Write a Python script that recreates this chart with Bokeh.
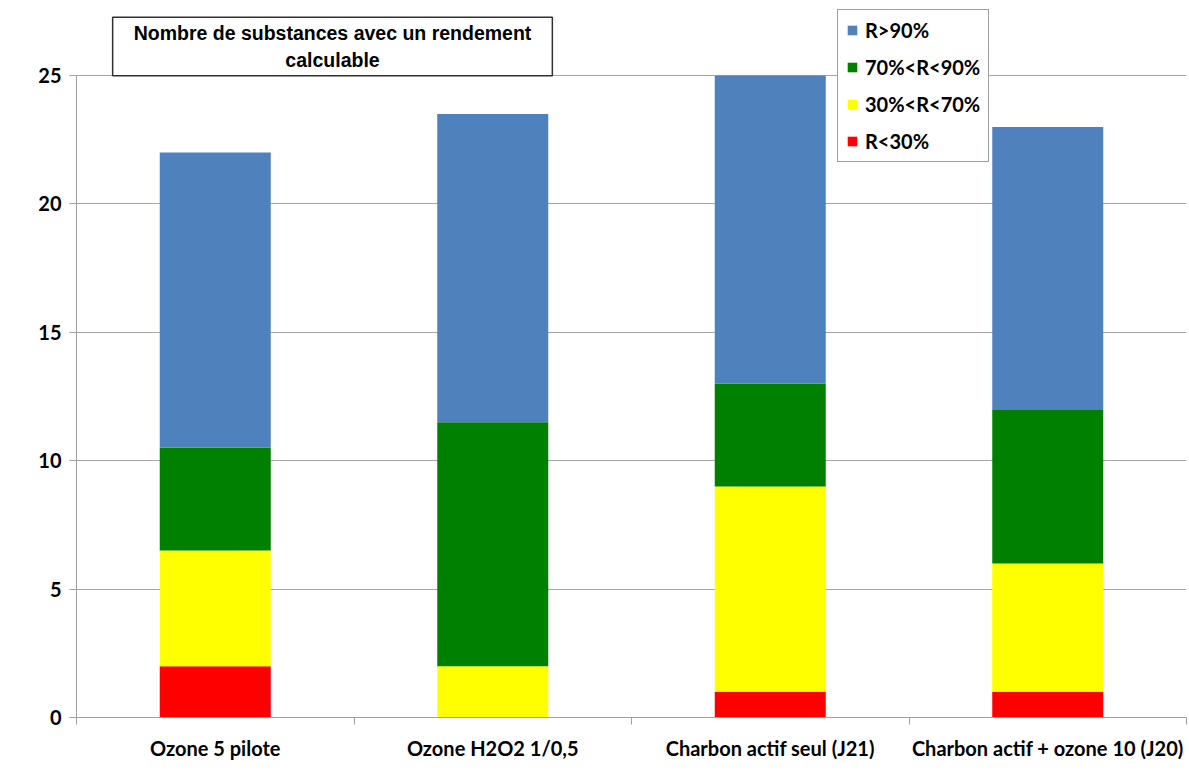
from bokeh.plotting import figure
from bokeh.models import (ColumnDataSource, FixedTicker, Legend, LegendItem, Label, Range1d)
from bokeh.embed import file_html
from bokeh.resources import INLINE

categories = ["Ozone 5 pilote", "Ozone H2O2 1/0,5", "Charbon actif seul (J21)", "Charbon actif + ozone 10 (J20)"]
r_lt30 = [2, 0, 1, 1]
r_30_70 = [4.5, 2, 8, 5]
r_70_90 = [4, 9.5, 4, 6]
r_gt90 = [11.5, 12, 12, 11]
series_labels = ["R<30%", "30%<R<70%", "70%<R<90%", "R>90%"]
series_colors = ["#ff0000", "#ffff00", "#008000", "#4f81bd"]
y_ticks = [0, 5, 10, 15, 20, 25]
title_text = "Nombre de substances avec un rendement\ncalculable"

xs = [i + 0.5 for i in range(len(categories))]
src = ColumnDataSource(dict(x=xs, r_lt30=r_lt30, r_30_70=r_30_70, r_70_90=r_70_90, r_gt90=r_gt90))

p = figure(width=1189, height=782, output_backend="svg", toolbar_location=None,
           x_range=Range1d(0, len(categories)), y_range=Range1d(0, 27.61),
           min_border_left=76, min_border_right=3, min_border_top=8, min_border_bottom=65)
p.outline_line_color = None
p.background_fill_color = "white"
p.border_fill_color = "white"

rs = p.vbar_stack(["r_lt30", "r_30_70", "r_70_90", "r_gt90"], x="x", width=0.4,
                  fill_color=series_colors, line_color=None, source=src)

# axes
p.xgrid.visible = False
p.ygrid.grid_line_color = "#a6a6a6"
p.ygrid.grid_line_width = 1
p.ygrid.ticker = FixedTicker(ticks=y_ticks)

p.yaxis.ticker = FixedTicker(ticks=y_ticks)
p.yaxis.bounds = (0, 25)
p.yaxis.axis_line_color = "#a0a0a0"
p.yaxis.major_tick_line_color = "#a0a0a0"
p.yaxis.major_tick_out = 7
p.yaxis.major_tick_in = 0
p.yaxis.minor_tick_line_color = None
p.yaxis.major_label_standoff = 8
p.yaxis.major_label_text_font = "Lato"
p.yaxis.major_label_text_font_style = "bold"
p.yaxis.major_label_text_font_size = "20px"
p.yaxis.major_label_text_color = "black"

p.xaxis.ticker = FixedTicker(ticks=xs, minor_ticks=list(range(len(categories) + 1)))
p.xaxis.major_label_overrides = {x: c for x, c in zip(xs, categories)}
p.xaxis.axis_line_color = "#a0a0a0"
p.xaxis.major_tick_out = 0
p.xaxis.major_tick_in = 0
p.xaxis.major_tick_line_color = None
p.xaxis.minor_tick_line_color = "#a0a0a0"
p.xaxis.minor_tick_out = 7
p.xaxis.minor_tick_in = 0
p.xaxis.major_label_standoff = 11
p.xaxis.major_label_text_font = "Lato"
p.xaxis.major_label_text_font_style = "bold"
p.xaxis.major_label_text_font_size = "20px"
p.xaxis.major_label_text_color = "black"

# legend (top series first)
items = [LegendItem(label=series_labels[i], renderers=[rs[i]]) for i in reversed(range(len(series_labels)))]
legend = Legend(items=items, location=(761, 555))
legend.border_line_color = "#404040"
legend.border_line_width = 1.5
legend.background_fill_color = "white"
legend.background_fill_alpha = 1
legend.label_text_font = "Lato"
legend.label_text_font_style = "bold"
legend.label_text_font_size = "20px"
legend.label_text_color = "black"
legend.glyph_width = 12
legend.glyph_height = 12
legend.label_standoff = 7
legend.label_height = 24
legend.spacing = 13
legend.padding = 8
legend.margin = 0
p.add_layout(legend)

# title box
title = Label(x=256, y=671, x_units="screen", y_units="screen", text=title_text,
              text_align="center", text_baseline="middle",
              text_font="Liberation Sans", text_font_style="bold", text_font_size="19.5px",
              text_color="black",
              border_line_color="#303030", border_line_width=1.5,
              background_fill_color="white", background_fill_alpha=1,
              padding=dict(left=21, right=21, top=5, bottom=5))
p.add_layout(title)

open("out.html", "w").write(file_html(p, INLINE))
